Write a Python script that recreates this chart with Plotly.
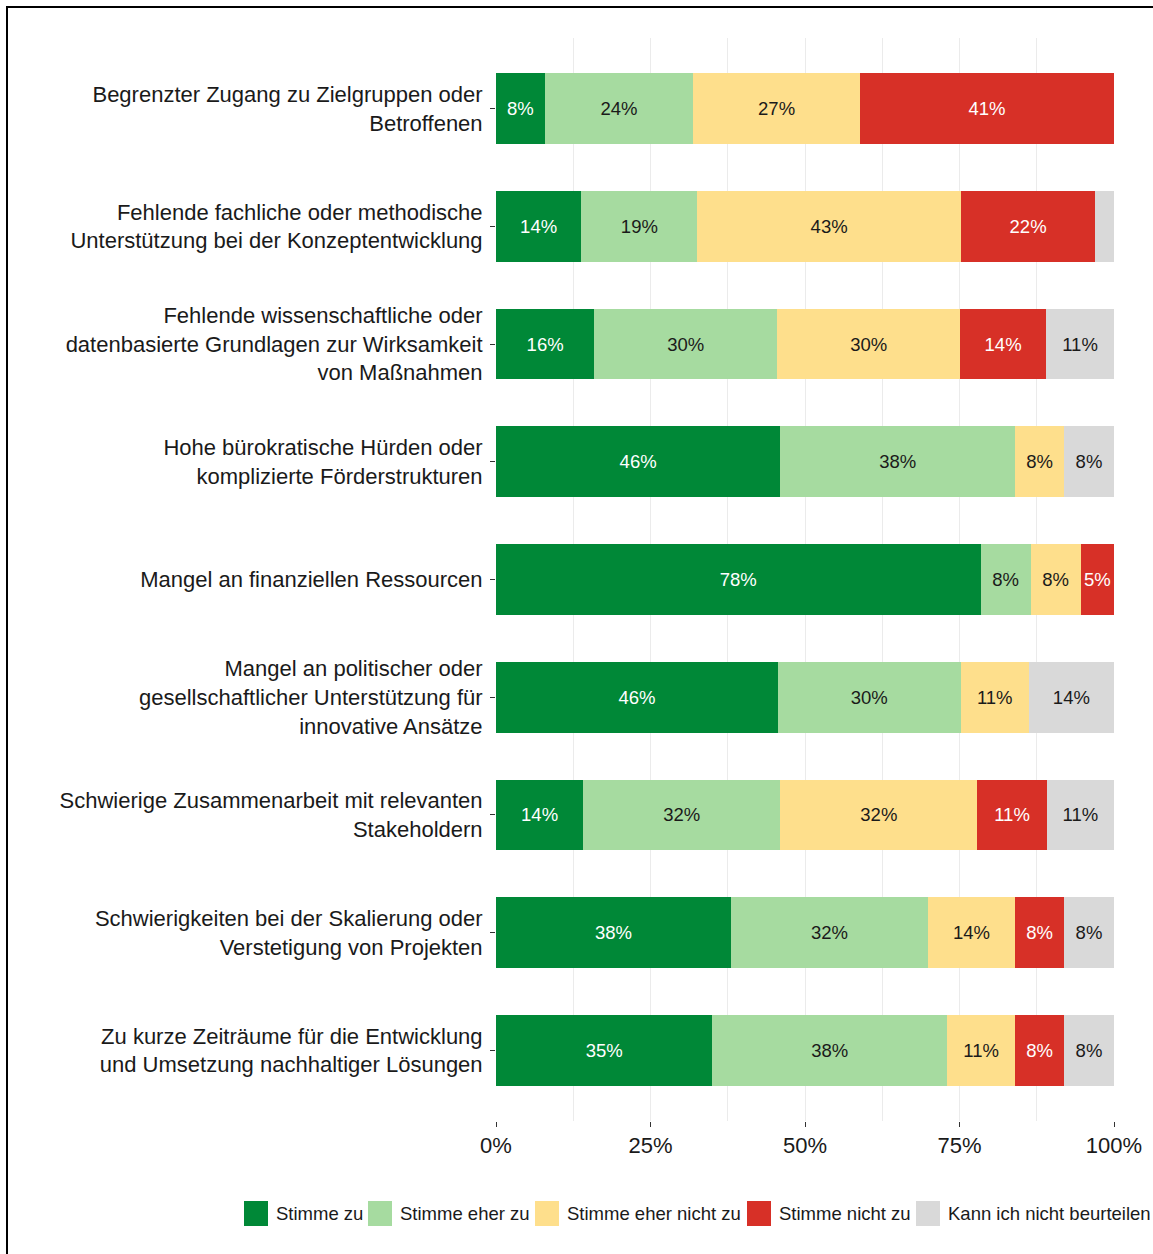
import plotly.graph_objects as go

categories = [
    "Begrenzter Zugang zu Zielgruppen oder<br>Betroffenen",
    "Fehlende fachliche oder methodische<br>Unterstützung bei der Konzeptentwicklung",
    "Fehlende wissenschaftliche oder<br>datenbasierte Grundlagen zur Wirksamkeit<br>von Maßnahmen",
    "Hohe bürokratische Hürden oder<br>komplizierte Förderstrukturen",
    "Mangel an finanziellen Ressourcen",
    "Mangel an politischer oder<br>gesellschaftlicher Unterstützung für<br>innovative Ansätze",
    "Schwierige Zusammenarbeit mit relevanten<br>Stakeholdern",
    "Schwierigkeiten bei der Skalierung oder<br>Verstetigung von Projekten",
    "Zu kurze Zeiträume für die Entwicklung<br>und Umsetzung nachhaltiger Lösungen",
]

series_names = ["Stimme zu", "Stimme eher zu", "Stimme eher nicht zu", "Stimme nicht zu", "Kann ich nicht beurteilen"]

stimme_zu = [7.9, 13.8, 15.9, 46.0, 78.4, 45.6, 14.1, 38.0, 35.0]
stimme_eher_zu = [24.0, 18.8, 29.6, 38.0, 8.1, 29.6, 31.9, 31.9, 38.0]
stimme_eher_nicht_zu = [27.0, 42.6, 29.6, 7.9, 8.1, 11.0, 31.9, 14.1, 11.0]
stimme_nicht_zu = [41.1, 21.8, 13.9, 0.0, 5.4, 0.0, 11.2, 7.9, 7.9]
kann_nicht = [0.0, 3.0, 11.0, 8.1, 0.0, 13.8, 10.9, 8.1, 8.1]

x_ticks = [0, 25, 50, 75, 100]
x_tick_labels = ["0%", "25%", "50%", "75%", "100%"]

colors = ["#008837", "#A6DBA0", "#FEDF8C", "#D73027", "#D9D9D9"]
text_colors = ["#FFFFFF", "#1A1A1A", "#1A1A1A", "#FFFFFF", "#1A1A1A"]
series_values = [stimme_zu, stimme_eher_zu, stimme_eher_nicht_zu, stimme_nicht_zu, kann_nicht]

FONT = "Liberation Sans, Arial, sans-serif"
W, H = 1153, 1254
ML, MR, MT, MB = 496, 39, 38, 133
PW = W - ML - MR
PH = H - MT - MB


def px_x(px):
    return (px - ML) / PW


def px_y(py):
    return (H - MB - py) / PH


fig = go.Figure()
for name, vals, col, tcol in zip(series_names, series_values, colors, text_colors):
    labels = [f"{round(v)}%" if v >= 4 else "" for v in vals]
    fig.add_trace(go.Bar(
        y=categories, x=vals, name=name, orientation="h",
        marker=dict(color=col, line=dict(width=0)),
        text=labels, textposition="inside", insidetextanchor="middle",
        textangle=0, constraintext="none",
        insidetextfont=dict(family=FONT, size=18.5, color=tcol),
        width=0.6, showlegend=False, hoverinfo="x+y+name",
    ))

shapes = [dict(type="rect", xref="paper", yref="paper",
               x0=px_x(7), x1=px_x(1165), y0=px_y(7), y1=px_y(1270),
               line=dict(color="#000000", width=2), fillcolor="rgba(0,0,0,0)", layer="above")]
annotations = []
legend_left = [244, 368, 535, 747, 916]
for name, col, lx in zip(series_names, colors, legend_left):
    shapes.append(dict(type="rect", xref="paper", yref="paper",
                       x0=px_x(lx), x1=px_x(lx + 24), y0=px_y(1201), y1=px_y(1226),
                       line=dict(width=0), fillcolor=col))
    annotations.append(dict(xref="paper", yref="paper", x=px_x(lx + 30), y=px_y(1213.5),
                            text=name, showarrow=False, xanchor="left", yanchor="middle",
                            font=dict(family=FONT, size=18.5, color="#1A1A1A")))

n = len(categories)
fig.update_layout(
    width=W, height=H, barmode="stack",
    margin=dict(l=ML, r=MR, t=MT, b=MB),
    paper_bgcolor="white", plot_bgcolor="white",
    font=dict(family=FONT, color="#1A1A1A"),
    showlegend=False, shapes=shapes, annotations=annotations,
    xaxis=dict(range=[0, 100], tickvals=x_ticks, ticktext=x_tick_labels,
               showgrid=True, gridcolor="#EBEBEB", gridwidth=1,
               minor=dict(dtick=12.5, tick0=0, showgrid=True, gridcolor="#EBEBEB", gridwidth=1),
               ticks="outside", ticklen=5, tickcolor="#333333", tickwidth=1,
               tickfont=dict(family=FONT, size=22, color="#1A1A1A"),
               zeroline=False, showline=False, fixedrange=True),
    yaxis=dict(categoryorder="array", categoryarray=categories,
               range=[n - 1 + 0.6, -0.6],
               showgrid=False, ticks="outside", ticklen=5, tickcolor="#333333", tickwidth=1,
               ticklabelstandoff=3,
               tickfont=dict(family=FONT, size=22, color="#1A1A1A"),
               zeroline=False, showline=False, fixedrange=True),
)

fig.write_html("out.html", config={"displayModeBar": False},
               post_script="document.body.style.margin='0';")
